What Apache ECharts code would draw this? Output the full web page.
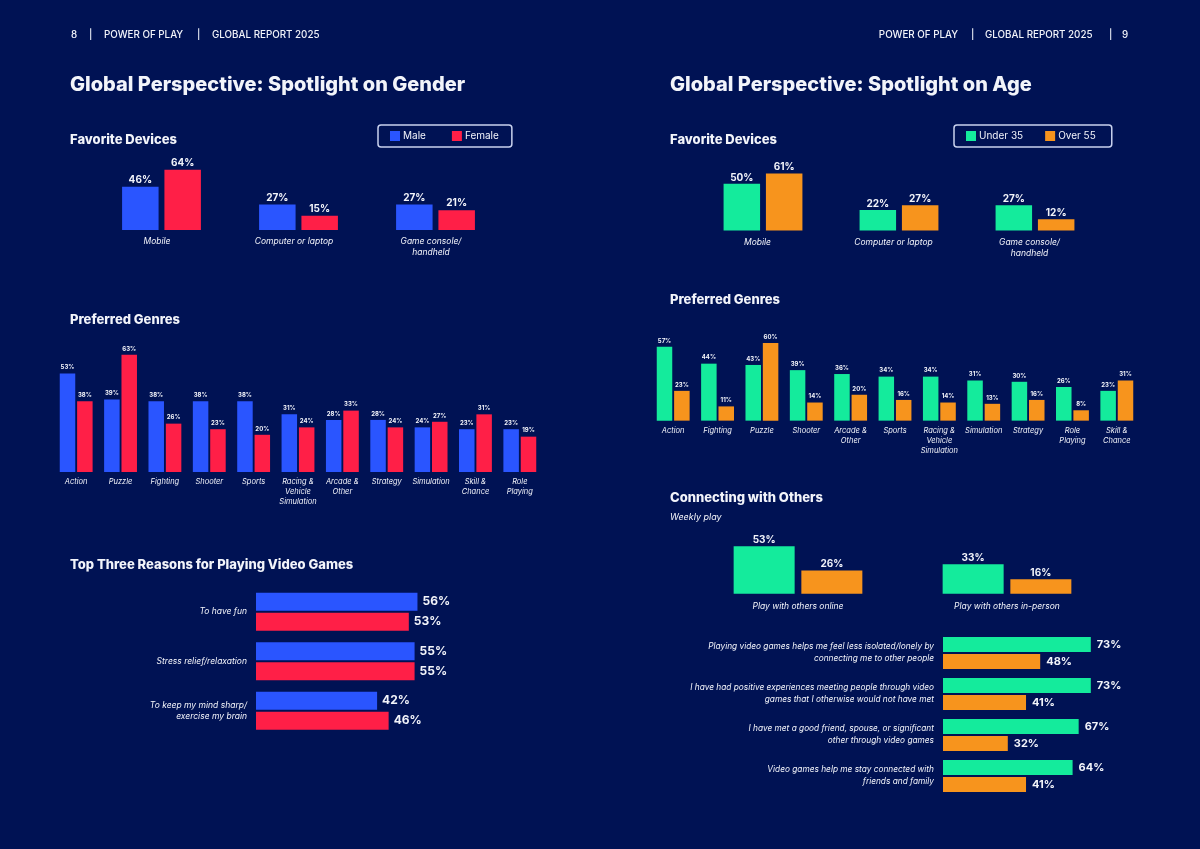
<!DOCTYPE html>
<html>
<head>
<meta charset="utf-8">
<title>Power of Play</title>
<style>
  html, body { margin: 0; padding: 0; background: #001254; }
  #chart { width: 1200px; height: 849px; }
</style>
<script src="https://cdn.jsdelivr.net/npm/echarts@6/dist/echarts.min.js"></script>
</head>
<body>
<div id="chart"></div>
<script>
// left page
const deviceCats = ['Mobile', 'Computer or laptop', 'Game console/\nhandheld']
const deviceMale = [46, 27, 27]
const deviceFemale = [64, 15, 21]

const genreCatsGender = ['Action', 'Puzzle', 'Fighting', 'Shooter', 'Sports', 'Racing &\nVehicle\nSimulation', 'Arcade &\nOther', 'Strategy', 'Simulation', 'Skill &\nChance', 'Role\nPlaying']
const genreMale = [53, 39, 38, 38, 38, 31, 28, 28, 24, 23, 23]
const genreFemale = [38, 63, 26, 23, 20, 24, 33, 24, 27, 31, 19]

const reasonCats = ['To have fun', 'Stress relief/relaxation', 'To keep my mind sharp/\nexercise my brain']
const reasonMale = [56, 55, 42]
const reasonFemale = [53, 55, 46]

// right page
const deviceUnder35 = [50, 22, 27]
const deviceOver55 = [61, 27, 12]

const genreCatsAge = ['Action', 'Fighting', 'Puzzle', 'Shooter', 'Arcade &\nOther', 'Sports', 'Racing &\nVehicle\nSimulation', 'Simulation', 'Strategy', 'Role\nPlaying', 'Skill &\nChance']
const genreUnder35 = [57, 44, 43, 39, 36, 34, 34, 31, 30, 26, 23]
const genreOver55 = [23, 11, 60, 14, 20, 16, 14, 13, 16, 8, 31]

const playCats = ['Play with others online', 'Play with others in-person']
const playUnder35 = [53, 33]
const playOver55 = [26, 16]

const connectCats = [
  'Playing video games helps me feel less isolated/lonely by\nconnecting me to other people',
  'I have had positive experiences meeting people through video\ngames that I otherwise would not have met',
  'I have met a good friend, spouse, or significant\nother through video games',
  'Video games help me stay connected with\nfriends and family'
]
const connectUnder35 = [73, 73, 67, 64]
const connectOver55 = [48, 41, 32, 41]

const BLUE = '#2a55ff', RED = '#ff1f47', GREEN = '#14eb9c', ORANGE = '#f7941d'
const WHITE = '#f2f4fa'
const FONT = 'Inter'

const grids = [], xAxes = [], yAxes = [], series = []

// one small-multiple panel: a grid, its two axes and a pair of bar series
function panel(p) {
  const i = grids.length
  grids.push({ left: p.left, top: p.top, width: p.width, height: p.height })
  const catAxis = {
    type: 'category', gridIndex: i, data: p.cats, inverse: !!p.horizontal,
    axisLine: { show: false }, axisTick: { show: false },
    axisLabel: {
      interval: 0, color: WHITE, fontStyle: 'italic', fontFamily: FONT,
      fontSize: p.catSize, lineHeight: p.catLine, margin: p.catMargin,
      padding: [0, p.catShift || 0, 0, 0]
    }
  }
  const valAxis = {
    type: 'value', gridIndex: i, min: 0, max: p.max, show: false, splitLine: { show: false }
  }
  xAxes.push(p.horizontal ? valAxis : catAxis)
  yAxes.push(p.horizontal ? catAxis : valAxis)
  p.sets.forEach(s => {
    series.push({
      type: 'bar', name: s.name, xAxisIndex: i, yAxisIndex: i, data: s.data,
      barWidth: p.barWidth, barGap: p.barGap,
      itemStyle: { color: s.color },
      label: {
        show: true, position: p.horizontal ? 'right' : 'top', distance: p.labelDist,
        formatter: '{c}%', color: WHITE, fontWeight: 'bold', fontFamily: FONT, fontSize: p.labelSize
      }
    })
  })
}

const male = d => ({ name: 'Male', data: d, color: BLUE })
const female = d => ({ name: 'Female', data: d, color: RED })
const under = d => ({ name: 'Under 35', data: d, color: GREEN })
const over = d => ({ name: 'Over 55', data: d, color: ORANGE })

panel({ left: 93, top: 164, width: 411, height: 66, max: 70, cats: deviceCats, sets: [male(deviceMale), female(deviceFemale)],
  barWidth: 36.5, barGap: '16%', labelSize: 10, labelDist: 2, catSize: 8.5, catLine: 11, catMargin: 6, catShift: 9 })
panel({ left: 54, top: 341.8, width: 488, height: 130.2, max: 70, cats: genreCatsGender, sets: [male(genreMale), female(genreFemale)],
  barWidth: 15.5, barGap: '12%', labelSize: 6, labelDist: 3, catSize: 7.5, catLine: 10, catMargin: 5 })
panel({ left: 256, top: 587, width: 346, height: 148.5, max: 120, horizontal: true, cats: reasonCats, sets: [male(reasonMale), female(reasonFemale)],
  barWidth: 18, barGap: '11%', labelSize: 12, labelDist: 5, catSize: 8.5, catLine: 11, catMargin: 9 })

panel({ left: 695, top: 165, width: 408, height: 65.5, max: 70, cats: deviceCats, sets: [under(deviceUnder35), over(deviceOver55)],
  barWidth: 36.5, barGap: '16%', labelSize: 10, labelDist: 1, catSize: 8.5, catLine: 11, catMargin: 6, catShift: 11 })
panel({ left: 651, top: 330, width: 488, height: 90.65, max: 70, cats: genreCatsAge, sets: [under(genreUnder35), over(genreOver55)],
  barWidth: 15.5, barGap: '12%', labelSize: 6, labelDist: 3, catSize: 7.5, catLine: 10, catMargin: 5 })
panel({ left: 693.5, top: 531, width: 418, height: 62.7, max: 70, cats: playCats, sets: [under(playUnder35), over(playOver55)],
  barWidth: 61, barGap: '11%', labelSize: 10, labelDist: 1, catSize: 8.5, catLine: 11, catMargin: 7 })
panel({ left: 943, top: 632.5, width: 243, height: 164, max: 120, horizontal: true, cats: connectCats, sets: [under(connectUnder35), over(connectOver55)],
  barWidth: 15, barGap: '13%', labelSize: 11, labelDist: 6, catSize: 8.3, catLine: 12, catMargin: 9 })

function legendBox(left, names, gap, padRight) {
  return {
    left: left, top: 125, orient: 'horizontal', data: names, icon: 'rect', itemWidth: 10, itemHeight: 10, itemGap: gap,
    padding: [6, padRight, 6, 12], borderColor: '#c9d2ee', borderWidth: 1.5, borderRadius: 3, selectedMode: false,
    textStyle: { color: WHITE, fontFamily: FONT, fontSize: 10, padding: [0, 0, 0, -2] }
  }
}

function text(x, y, t, font, align) {
  return { type: 'text', x: x, y: y, style: { text: t, font: font, fill: WHITE, align: align || 'left', verticalAlign: 'middle' } }
}
const HEAD = `800 20px ${FONT}`, SUB = `800 13px ${FONT}`, SMALL = `500 9.8px ${FONT}`

const texts = [
  text(71, 35, '8', SMALL), text(89, 35, '|', SMALL),
  text(104, 35, 'POWER OF PLAY', SMALL), text(197, 35, '|', SMALL), text(212, 35, 'GLOBAL REPORT 2025', SMALL),
  text(958, 35, 'POWER OF PLAY', SMALL, 'right'), text(971, 35, '|', SMALL),
  text(985, 35, 'GLOBAL REPORT 2025', SMALL), text(1109, 35, '|', SMALL), text(1122, 35, '9', SMALL),
  text(70, 85, 'Global Perspective: Spotlight on Gender', HEAD),
  text(670, 85, 'Global Perspective: Spotlight on Age', HEAD),
  text(70, 140, 'Favorite Devices', SUB),
  text(70, 320, 'Preferred Genres', SUB),
  text(70, 565, 'Top Three Reasons for Playing Video Games', SUB),
  text(670, 140, 'Favorite Devices', SUB),
  text(670, 300, 'Preferred Genres', SUB),
  text(670, 498, 'Connecting with Others', SUB),
  text(670, 517, 'Weekly play', `italic 9px ${FONT}`)
]

const chart = echarts.init(document.getElementById('chart'))
chart.setOption({
  animation: false,
  backgroundColor: '#001254',
  grid: grids,
  xAxis: xAxes,
  yAxis: yAxes,
  series: series,
  legend: [legendBox(378, ['Male', 'Female'], 26, 13), legendBox(954, ['Under 35', 'Over 55'], 22, 16)],
  graphic: { elements: texts }
})
</script>
</body>
</html>
